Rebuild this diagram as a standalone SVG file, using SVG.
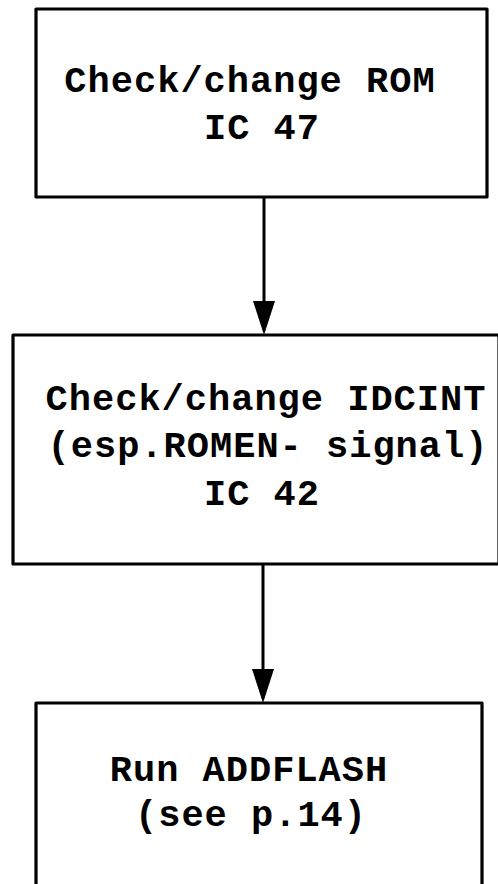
<svg xmlns="http://www.w3.org/2000/svg" width="498" height="884" viewBox="0 0 498 884">
<style>
.box{fill:#fff;stroke:#000;stroke-width:3.2;stroke-linejoin:round}
.t{font-family:"Liberation Mono","Courier New",monospace;font-weight:bold;font-size:37px;letter-spacing:1px;fill:#000;text-anchor:middle}
.edge{stroke:#000;stroke-width:3;fill:none}
</style>
<defs>
<marker id="ah" viewBox="0 0 34 22" refX="29" refY="11" markerWidth="34" markerHeight="22" markerUnits="userSpaceOnUse" orient="auto">
<path d="M0,0 L34,11 L0,22 Z" fill="#000"/>
</marker>
</defs>
<rect width="498" height="884" fill="#fff"/>
<g id="connectors">
<line class="edge" x1="264" y1="197" x2="264" y2="330" marker-end="url(#ah)"/>
<line class="edge" x1="263" y1="564" x2="263" y2="698" marker-end="url(#ah)"/>
</g>
<g id="node1">
<rect class="box" x="36" y="9" width="451" height="188"/>
<text class="t" x="250" y="92">Check/change ROM</text>
<text class="t" x="262" y="139">IC 47</text>
</g>
<g id="node2">
<rect class="box" x="13" y="335" width="486" height="229"/>
<text class="t" x="266" y="410">Check/change IDCINT</text>
<text class="t" x="268" y="457">(esp.ROMEN- signal)</text>
<text class="t" x="262" y="505">IC 42</text>
</g>
<g id="node3">
<rect class="box" x="36" y="703" width="446" height="200"/>
<text class="t" x="249" y="781">Run ADDFLASH</text>
<text class="t" x="251" y="826">(see p.14)</text>
</g>
</svg>
